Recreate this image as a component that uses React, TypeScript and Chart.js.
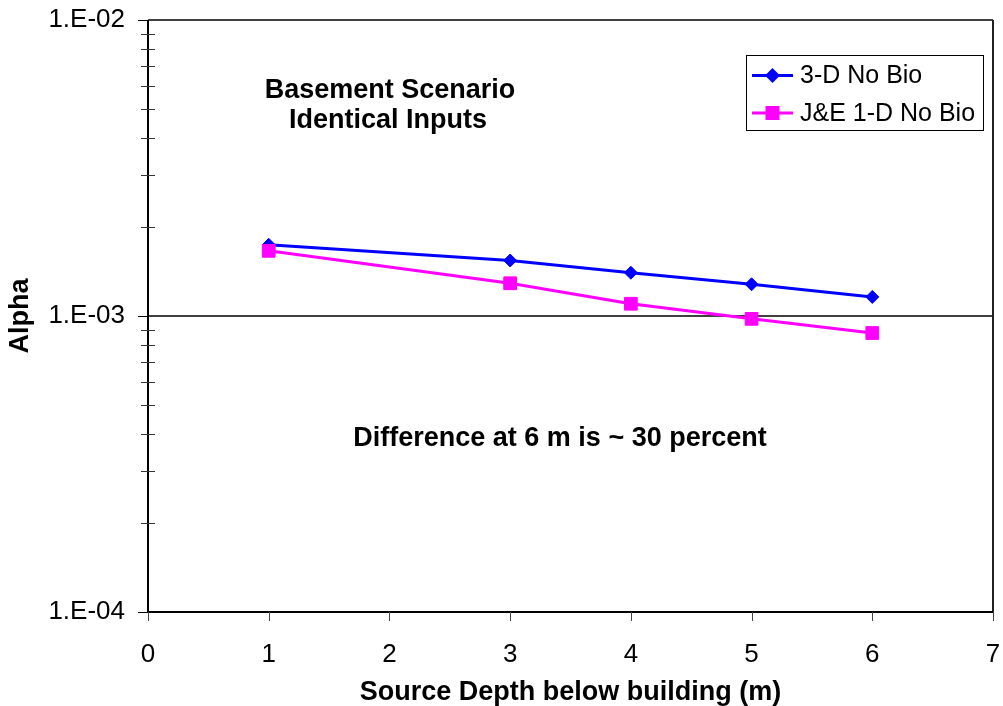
import React, { useEffect, useRef } from 'react';
import { Chart, registerables } from 'chart.js';

Chart.register(...registerables);

// ---- data ----
const depths = [1, 3, 4, 5, 6];
const alpha3D = [1.74e-3, 1.54e-3, 1.40e-3, 1.28e-3, 1.16e-3];
const alphaJE = [1.66e-3, 1.29e-3, 1.10e-3, 0.978e-3, 0.876e-3];
const seriesLabels = ['3-D No Bio', 'J&E 1-D No Bio'];
const seriesColors = ['#0000FF', '#FF00FF'];
const xTickValues = [0, 1, 2, 3, 4, 5, 6, 7];
const yMajorTicks = [1e-4, 1e-3, 1e-2];
const yGridValues = [1e-3];
const xTitle = 'Source Depth below building (m)';
const yTitle = 'Alpha';
const noteLines = ['Basement Scenario', 'Identical Inputs'];
const diffNote = 'Difference at 6 m is ~ 30 percent';

const FONT = "'Liberation Sans', Arial, Helvetica, sans-serif";

function fmtExp(v: number): string {
  const e = Math.round(Math.log10(v));
  return '1.E' + (e < 0 ? '-' : '+') + String(Math.abs(e)).padStart(2, '0');
}

const decorPlugin = {
  id: 'decor',
  beforeDatasetsDraw(chart: any) {
    const { ctx, chartArea: a, scales } = chart;
    const y = scales.y;
    ctx.save();
    ctx.strokeStyle = '#000';
    ctx.lineWidth = 1.3;
    for (const v of yGridValues) {
      const py = y.getPixelForValue(v);
      ctx.beginPath();
      ctx.moveTo(a.left, py);
      ctx.lineTo(a.right, py);
      ctx.stroke();
    }
    ctx.restore();
  },
  afterDatasetsDraw(chart: any) {
    const { ctx, chartArea: a, scales } = chart;
    const x = scales.x;
    const y = scales.y;
    ctx.save();

    // frame
    ctx.strokeStyle = '#000';
    ctx.lineWidth = 1.5;
    ctx.beginPath();
    ctx.moveTo(a.left, a.top);
    ctx.lineTo(a.right, a.top);
    ctx.stroke();
    ctx.strokeStyle = '#222';
    ctx.lineWidth = 2;
    ctx.beginPath();
    ctx.moveTo(a.right, a.top);
    ctx.lineTo(a.right, a.bottom);
    ctx.stroke();
    ctx.strokeStyle = '#000';
    ctx.beginPath();
    ctx.moveTo(a.left, a.top);
    ctx.lineTo(a.left, a.bottom);
    ctx.lineTo(a.right, a.bottom);
    ctx.stroke();

    // y ticks (major outward, minor crossing)
    const minE = Math.round(Math.log10(yMajorTicks[0]));
    const maxE = Math.round(Math.log10(yMajorTicks[yMajorTicks.length - 1]));
    ctx.lineWidth = 1;
    for (let e = minE; e <= maxE; e++) {
      const base = Math.pow(10, e);
      ctx.strokeStyle = '#000';
      const py = Math.round(y.getPixelForValue(base)) + 0.5;
      ctx.beginPath();
      ctx.moveTo(a.left - 10, py);
      ctx.lineTo(a.left, py);
      ctx.stroke();
      if (e < maxE) {
        ctx.strokeStyle = '#333';
        for (let k = 2; k <= 9; k++) {
          const p = Math.round(y.getPixelForValue(k * base)) + 0.5;
          ctx.beginPath();
          ctx.moveTo(a.left - 7, p);
          ctx.lineTo(a.left + 7, p);
          ctx.stroke();
        }
      }
    }
    // x ticks
    ctx.strokeStyle = '#444';
    for (const v of xTickValues) {
      const px = Math.round(x.getPixelForValue(v)) + 0.5;
      ctx.beginPath();
      ctx.moveTo(px, a.bottom);
      ctx.lineTo(px, a.bottom + 9);
      ctx.stroke();
    }

    // axis titles
    ctx.fillStyle = '#000';
    ctx.font = `bold 27px ${FONT}`;
    ctx.textAlign = 'center';
    ctx.textBaseline = 'middle';
    ctx.fillText(xTitle, (a.left + a.right) / 2, 693);
    ctx.save();
    ctx.translate(21, (a.top + a.bottom) / 2);
    ctx.rotate(-Math.PI / 2);
    ctx.fillText(yTitle, 0, 0);
    ctx.restore();

    // annotations
    ctx.fillText(noteLines[0], 390, 91);
    ctx.fillText(noteLines[1], 388, 121);
    ctx.fillText(diffNote, 560, 439);

    // legend
    const lx = 746, ly = 55, lw = 237, lh = 75;
    ctx.fillStyle = '#fff';
    ctx.fillRect(lx, ly, lw, lh);
    ctx.strokeStyle = '#000';
    ctx.lineWidth = 1;
    ctx.strokeRect(lx + 0.5, ly + 0.5, lw, lh);
    const rows = [75.5, 113];
    ctx.font = `25px ${FONT}`;
    ctx.textAlign = 'left';
    rows.forEach((ry, i) => {
      const c = seriesColors[i];
      ctx.strokeStyle = c;
      ctx.lineWidth = 3;
      ctx.beginPath();
      ctx.moveTo(752, ry);
      ctx.lineTo(793, ry);
      ctx.stroke();
      ctx.fillStyle = c;
      const cx = 772.5;
      ctx.beginPath();
      if (i === 0) {
        ctx.moveTo(cx - 7.5, ry);
        ctx.lineTo(cx, ry - 7.5);
        ctx.lineTo(cx + 7.5, ry);
        ctx.lineTo(cx, ry + 7.5);
        ctx.closePath();
      } else {
        ctx.rect(cx - 7, ry - 7, 14, 14);
      }
      ctx.fill();
      ctx.fillStyle = '#000';
      ctx.fillText(seriesLabels[i], 800, ry + 1);
    });

    ctx.restore();
  },
};

export default function App() {
  const ref = useRef<HTMLCanvasElement>(null);
  useEffect(() => {
    const canvas = ref.current;
    if (!canvas) return;
    const chart = new Chart(canvas, {
      type: 'line',
      data: {
        datasets: [
          {
            label: seriesLabels[0],
            data: depths.map((d, i) => ({ x: d, y: alpha3D[i] })),
            borderColor: seriesColors[0],
            backgroundColor: seriesColors[0],
            pointBackgroundColor: seriesColors[0],
            pointBorderColor: seriesColors[0],
            pointStyle: 'rectRot',
            pointRadius: 6.5,
            pointBorderWidth: 1,
            borderWidth: 3,
            tension: 0,
            order: 1,
          },
          {
            label: seriesLabels[1],
            data: depths.map((d, i) => ({ x: d, y: alphaJE[i] })),
            borderColor: seriesColors[1],
            backgroundColor: seriesColors[1],
            pointBackgroundColor: seriesColors[1],
            pointBorderColor: seriesColors[1],
            pointStyle: 'rect',
            pointRadius: 9,
            pointBorderWidth: 1,
            borderWidth: 3,
            tension: 0,
            order: 0,
          },
        ],
      },
      options: {
        responsive: false,
        animation: false,
        layout: { padding: { top: 20, right: 6, left: 0, bottom: 0 } },
        plugins: {
          legend: { display: false },
          tooltip: { enabled: false },
        },
        scales: {
          x: {
            type: 'linear',
            min: 0,
            max: 7,
            afterBuildTicks: (s: any) => {
              s.ticks = xTickValues.map((v) => ({ value: v }));
            },
            ticks: {
              autoSkip: false,
              maxRotation: 0,
              color: '#000',
              font: { family: FONT, size: 26 },
              padding: 27,
              callback: (v: any) => String(v),
            },
            grid: { display: false, drawTicks: false },
            border: { display: false },
            afterFit: (s: any) => {
              s.height = 94;
              s.paddingLeft = 0;
              s.paddingRight = 0;
            },
          },
          y: {
            type: 'logarithmic',
            min: 1e-4,
            max: 1e-2,
            afterBuildTicks: (s: any) => {
              s.ticks = yMajorTicks.map((v) => ({ value: v }));
            },
            ticks: {
              autoSkip: false,
              color: '#000',
              font: { family: FONT, size: 26 },
              padding: 23,
              callback: (v: any) => fmtExp(Number(v)),
            },
            grid: { display: false, drawTicks: false },
            border: { display: false },
            afterFit: (s: any) => {
              s.width = 148;
              s.paddingTop = 0;
              s.paddingBottom = 0;
            },
          },
        },
      },
      plugins: [decorPlugin],
    } as any);
    return () => chart.destroy();
  }, []);
  return (
    <div style={{ position: 'fixed', left: 0, top: 0, width: 1003, height: 706, background: '#fff' }}>
      <canvas ref={ref} width={1003} height={706} style={{ display: 'block' }} />
    </div>
  );
}
